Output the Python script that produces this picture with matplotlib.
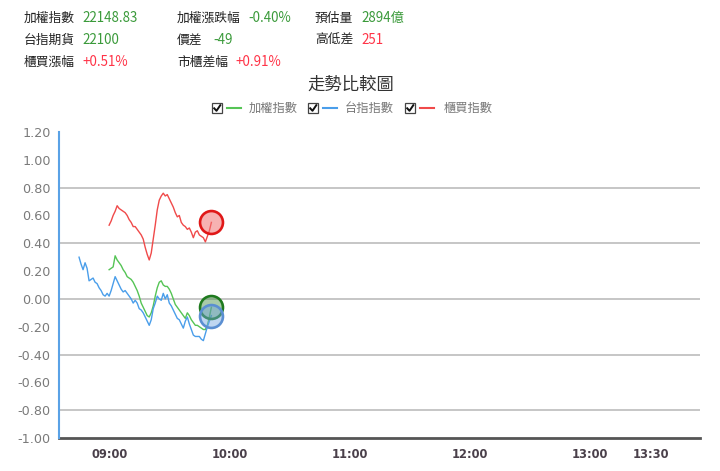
import matplotlib
matplotlib.use("Agg")
import matplotlib.pyplot as plt
from matplotlib.lines import Line2D
from matplotlib.patches import Rectangle

# ---------------- data ----------------
# minutes relative to 09:00
taiex_t = list(range(0, 52))
taiex_v = [0.21, 0.22, 0.23, 0.31, 0.28, 0.26, 0.24, 0.21, 0.19, 0.16,
           0.15, 0.14, 0.12, 0.09, 0.06, 0.02, -0.03, -0.06, -0.09, -0.12,
           -0.13, -0.10, -0.05, 0.02, 0.08, 0.12, 0.13, 0.10, 0.09, 0.09,
           0.07, 0.04, 0.00, -0.04, -0.06, -0.08, -0.10, -0.12, -0.14, -0.10,
           -0.12, -0.15, -0.17, -0.19, -0.19, -0.20, -0.21, -0.22, -0.22, -0.19,
           -0.13, -0.06]

futures_t = list(range(-15, 52))
futures_v = [0.30, 0.25, 0.21, 0.26, 0.22, 0.13, 0.14, 0.15, 0.12, 0.11,
             0.08, 0.06, 0.03, 0.02, 0.04, 0.02, 0.06, 0.11, 0.16, 0.13,
             0.10, 0.07, 0.05, 0.06, 0.04, 0.02, 0.00, -0.03, -0.01, -0.03,
             -0.07, -0.08, -0.10, -0.13, -0.16, -0.19, -0.15, -0.07, -0.03, 0.02,
             0.00, -0.01, 0.04, 0.00, 0.03, -0.03, -0.05, -0.08, -0.11, -0.14,
             -0.15, -0.18, -0.21, -0.16, -0.13, -0.18, -0.22, -0.26, -0.27, -0.27,
             -0.27, -0.29, -0.30, -0.25, -0.20, -0.16, -0.12]

otc_t = list(range(0, 52))
otc_v = [0.53, 0.56, 0.60, 0.63, 0.67, 0.65, 0.64, 0.63, 0.62, 0.60,
         0.57, 0.55, 0.52, 0.52, 0.50, 0.48, 0.46, 0.43, 0.37, 0.32,
         0.28, 0.33, 0.43, 0.53, 0.64, 0.71, 0.74, 0.76, 0.74, 0.75,
         0.72, 0.69, 0.66, 0.62, 0.59, 0.60, 0.55, 0.53, 0.52, 0.50,
         0.51, 0.48, 0.44, 0.48, 0.49, 0.46, 0.45, 0.44, 0.41, 0.45,
         0.49, 0.55]

x_tick_pos = [0, 60, 120, 180, 240, 270]
x_tick_labels = ["09:00", "10:00", "11:00", "12:00", "13:00", "13:30"]
y_ticks = [-1.00, -0.80, -0.60, -0.40, -0.20, 0.00, 0.20, 0.40, 0.60, 0.80, 1.00, 1.20]
grid_vals = [-0.80, -0.40, 0.00, 0.40, 0.80]

header_rows = [
    [("加權指數", "22148.83", "g"), ("加權漲跌幅", "-0.40%", "g"), ("預估量", "2894億", "g")],
    [("台指期貨", "22100", "g"), ("價差", "-49", "g"), ("高低差", "251", "r")],
    [("櫃買漲幅", "+0.51%", "r"), ("市櫃差幅", "+0.91%", "r"), None],
]
series_names = ["加權指數", "台指指數", "櫃買指數"]
title_text = "走勢比較圖"

# ---------------- style ----------------
CJK = ["Noto Sans CJK TC", "DejaVu Sans"]
plt.rcParams['font.family'] = CJK
GREEN = "#55c455"
BLUE = "#4a9eea"
RED = "#f04a4a"
VAL_G = "#3a9a3a"
VAL_R = "#ff3347"

W, H = 720, 471
fig = plt.figure(figsize=(7.2, 4.71), dpi=100)


def fx(x):
    return x / W


def fy(y):
    return 1 - y / H


ax = fig.add_axes([fx(59), fy(438), fx(700) - fx(59), fy(132) - fy(438)])
ax.set_xlim(-25, 294.7)
ax.set_ylim(-1.0, 1.2)

for g in grid_vals:
    ax.axhline(g, color="#c6c6c6", lw=1.4, zorder=1)

ax.plot(taiex_t, taiex_v, color=GREEN, lw=1.0, zorder=3)
ax.plot(futures_t, futures_v, color=BLUE, lw=1.0, zorder=3)
ax.plot(otc_t, otc_v, color=RED, lw=1.0, zorder=3)

# end markers
ax.plot([otc_t[-1]], [otc_v[-1]], 'o', ms=16.5, mfc=(0.95, 0.45, 0.45, 0.55),
        mec="#e01818", mew=1.9, zorder=5)
ax.plot([taiex_t[-1]], [taiex_v[-1]], 'o', ms=16.5, mfc=(0.25, 0.55, 0.25, 0.45),
        mec="#1f7a1f", mew=1.9, zorder=5)
ax.plot([futures_t[-1]], [futures_v[-1]], 'o', ms=16.5, mfc=(0.45, 0.65, 0.88, 0.45),
        mec="#5b8fd2", mew=1.9, zorder=6)

for s in ["top", "right"]:
    ax.spines[s].set_visible(False)
ax.spines["left"].set_color("#5aa2e6")
ax.spines["left"].set_linewidth(1.5)
ax.spines["bottom"].set_color("#555555")
ax.spines["bottom"].set_linewidth(2.0)
ax.spines["left"].set_zorder(7)

ax.set_yticks(y_ticks)
ax.set_yticklabels([f"{v:.2f}" for v in y_ticks], family="DejaVu Sans",
                   fontsize=9.2, color="#7a7a7a")
ax.set_xticks(x_tick_pos)
ax.set_xticklabels(x_tick_labels, family="DejaVu Sans", fontsize=8.3,
                   color="#4a404a", fontweight="bold")
ax.tick_params(axis="both", length=0)
ax.tick_params(axis="y", pad=6)
ax.tick_params(axis="x", pad=7)

# ---------------- header ----------------
col_label_x = [24, 177, 315]
col_val_x = [[82, 248, 361], [82, 213, 361], [82, 235, 361]]
row_y = [18, 40, 62]
for r, row in enumerate(header_rows):
    for c, item in enumerate(row):
        if item is None:
            continue
        lab, val, col = item
        fig.text(fx(col_label_x[c]), fy(row_y[r]), lab, fontsize=9.2,
                 color="#222222", va="center", ha="left", family=CJK)
        fig.text(fx(col_val_x[r][c]), fy(row_y[r]), val, fontsize=9.6,
                 color=VAL_G if col == "g" else VAL_R, va="center", ha="left",
                 family=CJK)

# title
fig.text(fx(351), fy(85), title_text, fontsize=12.5, color="#333333",
         ha="center", va="center", family=CJK)

# legend with checkboxes
leg_items = [(212, GREEN, 249), (308, BLUE, 345), (405, RED, 444)]
ly = 108
for (bx, colr, tx), name in zip(leg_items, series_names):
    fig.add_artist(Rectangle((fx(bx), fy(ly + 5)), fx(10), 10 / H,
                             transform=fig.transFigure, fill=True,
                             facecolor="white", edgecolor="#444444", lw=0.9))
    fig.add_artist(Line2D([fx(bx + 2.2), fx(bx + 4.5), fx(bx + 8.3)],
                          [fy(ly + 0.3), fy(ly + 2.8), fy(ly - 2.8)],
                          transform=fig.transFigure, color="#111111", lw=1.4))
    fig.add_artist(Line2D([fx(bx + 15), fx(bx + 29)], [fy(ly), fy(ly)],
                          transform=fig.transFigure, color=colr, lw=1.5))
    fig.text(fx(tx), fy(ly), name, fontsize=8.8, color="#777777",
             ha="left", va="center", family=CJK)

fig.savefig("out.png", dpi=100, facecolor="white")
